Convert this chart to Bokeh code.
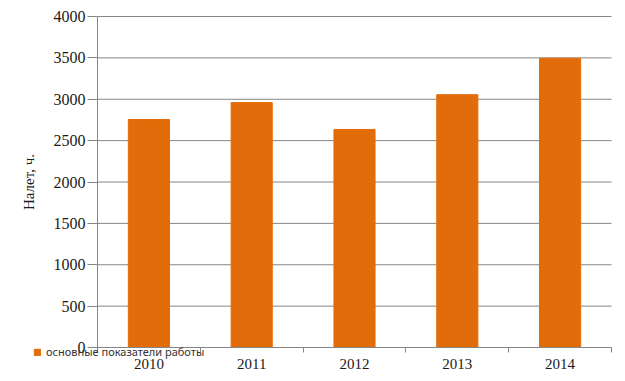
from bokeh.plotting import figure
from bokeh.models import ColumnDataSource, FixedTicker, Range1d, Legend, LegendItem
from bokeh.embed import file_html
from bokeh.resources import INLINE

years = ["2010", "2011", "2012", "2013", "2014"]
values = [2755, 2960, 2635, 3055, 3495]
series_name = "основные показатели работы"
y_ticks = [0, 500, 1000, 1500, 2000, 2500, 3000, 3500, 4000]

n = len(years)
xs = [i + 0.5 for i in range(n)]
src = ColumnDataSource(dict(x=xs, top=values))

# canvas geometry (pixels) -> ranges, so that the plot box sits where the reference has it
W, H = 617, 373
left, right, top, bottom = 97, 611, 16, 347
ymax = y_ticks[-1]
xs_per_px = n / (right - left)
ys_per_px = ymax / (bottom - top)
xr = Range1d(-left * xs_per_px, n + (W - right) * xs_per_px)
yr = Range1d(-(H - bottom) * ys_per_px, ymax + top * ys_per_px)

p = figure(width=W, height=H, output_backend="svg", toolbar_location=None,
           x_range=xr, y_range=yr,
           min_border_left=0, min_border_right=0, min_border_top=0, min_border_bottom=0)
p.outline_line_color = None
p.background_fill_color = "white"
p.xgrid.visible = False
p.ygrid.visible = False

# horizontal gridlines
p.segment(x0=[0] * len(y_ticks), x1=[n] * len(y_ticks), y0=y_ticks, y1=y_ticks,
          line_color="#868686", line_width=1)

r = p.vbar(x="x", top="top", width=0.4, source=src, color="#E36C0A")

# x axis
p.xaxis.fixed_location = 0
p.xaxis.bounds = (0, n)
p.xaxis.ticker = FixedTicker(ticks=xs, minor_ticks=list(range(n + 1)))
p.xaxis.major_label_overrides = {x: y for x, y in zip(xs, years)}
p.xaxis.major_tick_out = 0
p.xaxis.major_tick_in = 0
p.xaxis.minor_tick_out = 5
p.xaxis.minor_tick_in = 0
p.xaxis.minor_tick_line_color = "#868686"
p.xaxis.axis_line_color = "#868686"
p.xaxis.major_label_text_font = "Liberation Serif"
p.xaxis.major_label_text_font_size = "15px"
p.xaxis.major_label_text_color = "#1a1a1a"
p.xaxis.major_label_standoff = 6

# y axis
p.yaxis.fixed_location = 0
p.yaxis.bounds = (0, ymax)
p.yaxis.ticker = FixedTicker(ticks=y_ticks)
p.yaxis.minor_tick_line_color = None
p.yaxis.major_tick_out = 10
p.yaxis.major_tick_in = 0
p.yaxis.major_tick_line_color = "#868686"
p.yaxis.axis_line_color = "#868686"
p.yaxis.major_label_text_font = "Liberation Serif"
p.yaxis.major_label_text_font_size = "16px"
p.yaxis.major_label_text_color = "#1a1a1a"
p.yaxis.major_label_standoff = 2
p.yaxis.axis_label = "Налет, ч."
p.yaxis.axis_label_text_font = "Liberation Serif"
p.yaxis.axis_label_text_font_size = "15px"
p.yaxis.axis_label_text_font_style = "normal"
p.yaxis.axis_label_text_color = "#1a1a1a"
p.yaxis.axis_label_standoff = 14

legend = Legend(items=[LegendItem(label=series_name, renderers=[r])],
                location=(33, 14), padding=0, margin=0, spacing=0,
                glyph_width=8, glyph_height=8, label_height=10, label_standoff=5,
                label_text_font="Noto Sans", label_text_font_size="11px",
                label_text_color="#333333",
                border_line_color=None, background_fill_alpha=0)
p.add_layout(legend, "center")

open("out.html", "w").write(file_html(p, INLINE))
